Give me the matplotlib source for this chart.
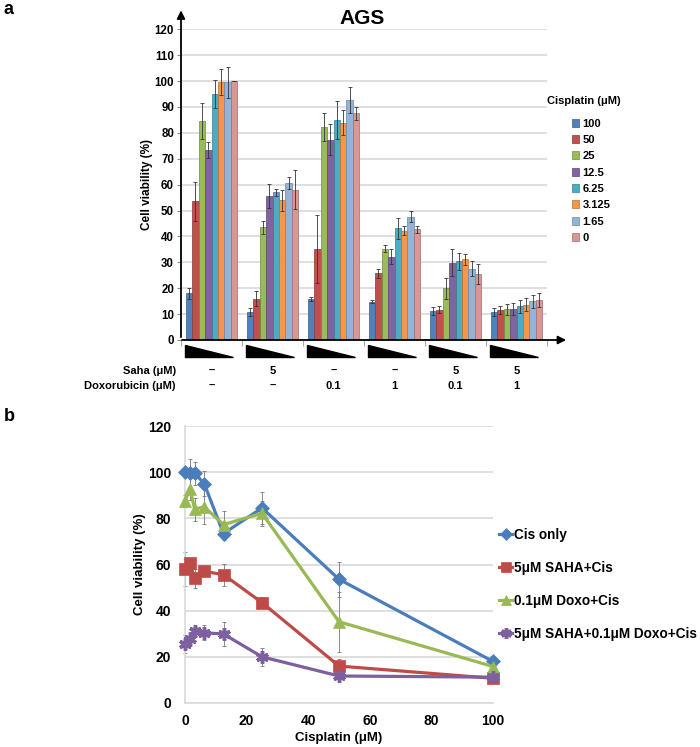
import numpy as np
import matplotlib
matplotlib.use("Agg")
import matplotlib.pyplot as plt
from matplotlib.patches import Polygon
from matplotlib.lines import Line2D
from matplotlib.transforms import blended_transform_factory

plt.rcParams['font.family'] = ['Liberation Sans', 'DejaVu Sans']
plt.rcParams['font.weight'] = 'bold'

# cisplatin doses (uM), one bar per dose inside each group
cis_labels = ['100', '50', '25', '12.5', '6.25', '3.125', '1.65', '0']
cis_conc = [100, 50, 25, 12.5, 6.25, 3.125, 1.65, 0]

# treatment rows under the bar chart
saha_row = ['–', '5', '–', '–', '5', '5']
doxo_row = ['–', '–', '0.1', '1', '0.1', '1']

# cell viability (%) per group, ordered like cis_labels
cis_only = [18, 53.6, 84.5, 73.4, 95, 99.6, 99.6, 100]
cis_only_err = [2, 7.6, 7, 3, 5.5, 5, 6, 0]
saha5 = [10.7, 16, 43.5, 55.6, 57, 54, 60.5, 58]
saha5_err = [1.5, 3, 2.5, 4.7, 1.5, 4, 2.3, 7.5]
doxo01 = [15.8, 35.2, 82.2, 77.3, 85, 84, 92.8, 87.5]
doxo01_err = [0.8, 13, 5.5, 6, 7.5, 5, 5, 2.5]
doxo1 = [14.8, 25.8, 35.3, 32.2, 43.2, 42.2, 47.6, 42.7]
doxo1_err = [0.5, 1.8, 1.3, 3, 4, 1.7, 2.2, 1.5]
saha5_doxo01 = [11.2, 11.7, 20, 29.9, 30.4, 31.1, 27.6, 25.5]
saha5_doxo01_err = [1.5, 1.3, 4, 5.3, 3.3, 2, 3, 3.8]
saha5_doxo1 = [10.8, 11.6, 11.8, 11.9, 13.1, 13.7, 14.9, 15.4]
saha5_doxo1_err = [1.5, 1.5, 2, 2.2, 2.5, 2.6, 2.5, 2.8]

groups = [cis_only, saha5, doxo01, doxo1, saha5_doxo01, saha5_doxo1]
group_errs = [cis_only_err, saha5_err, doxo01_err, doxo1_err, saha5_doxo01_err, saha5_doxo1_err]

bar_colors = ['#4F81BD', '#C0504D', '#9BBB59', '#8064A2', '#4BACC6', '#F79646', '#95B3D7', '#D99694']
edge_colors = ['#385D8A', '#8C3836', '#71893F', '#5C4776', '#357D91', '#B66D31', '#6F87A8', '#A06E6D']

W, H = 700, 747
fig = plt.figure(figsize=(W / 100, H / 100), dpi=100)

def fx(px):
    return px / W

def fy(py):
    return 1 - py / H

# ---------------- panel a ----------------
ax = fig.add_axes([fx(181), fy(340), fx(366), (340 - 29.3) / H])
vals = np.array(groups)
errs = np.array(group_errs)
n_grp, n_bar = vals.shape
bw = 0.106
for j in range(n_bar):
    xs = np.arange(n_grp) + 0.5 + (j - (n_bar - 1) / 2) * bw
    ax.bar(xs, vals[:, j], width=bw, color=bar_colors[j], edgecolor=edge_colors[j],
           linewidth=0.5, zorder=3, label=cis_labels[j])
    ax.errorbar(xs, vals[:, j], yerr=errs[:, j], fmt='none', ecolor='#333333',
                elinewidth=0.6, capsize=1.2, capthick=0.6, zorder=4)

ax.set_xlim(0, n_grp)
ax.set_ylim(0, 120)
ax.set_yticks(np.arange(0, 121, 10))
ax.tick_params(axis='y', labelsize=8.3, length=3, color='#888888', pad=2)
ax.set_xticks(np.arange(0, n_grp + 1))
ax.set_xticklabels([])
ax.tick_params(axis='x', length=4, color='#AAAAAA')
ax.yaxis.grid(True, color='#D9D9D9', linewidth=1.2, zorder=0)
for s in ax.spines.values():
    s.set_visible(False)
ax.annotate('', xy=(0, 1.07), xytext=(0, 0), xycoords='axes fraction',
            arrowprops=dict(arrowstyle='-|>', color='black', lw=1.3, mutation_scale=12),
            annotation_clip=False)
ax.annotate('', xy=(1.06, 0), xytext=(-0.005, 0), xycoords='axes fraction',
            arrowprops=dict(arrowstyle='-|>', color='black', lw=1.3, mutation_scale=12),
            annotation_clip=False)
ax.set_ylabel('Cell viability (%)', fontsize=8.5, fontweight='bold', labelpad=1)
fig.text(fx(362), fy(19), 'AGS', fontsize=15, fontweight='bold', ha='center', va='center')
fig.text(fx(4), fy(9), 'a', fontsize=13, fontweight='bold', ha='left', va='center')

# dose wedges and treatment rows under each group
tr = blended_transform_factory(ax.transData, fig.transFigure)
for g in range(n_grp):
    tri = Polygon([(g + 0.07, fy(345)), (g + 0.07, fy(357)), (g + 0.86, fy(357))],
                  closed=True, facecolor='black', edgecolor='black', transform=tr,
                  clip_on=False)
    fig.patches.append(tri)
    ax.text(g + 0.5, fy(371), saha_row[g], transform=tr, fontsize=8, fontweight='bold',
            ha='center', va='center')
    ax.text(g + 0.5, fy(386), doxo_row[g], transform=tr, fontsize=8, fontweight='bold',
            ha='center', va='center')
fig.text(fx(176), fy(371), 'Saha (μM)', fontsize=8, fontweight='bold', ha='right', va='center')
fig.text(fx(176), fy(386), 'Doxorubicin (μM)', fontsize=8, fontweight='bold', ha='right', va='center')

# legend for doses
fig.text(fx(547), fy(101), 'Cisplatin (μM)', fontsize=8, fontweight='bold', ha='left', va='center')
handles = [plt.Rectangle((0, 0), 1, 1, facecolor=bar_colors[j], edgecolor=edge_colors[j], linewidth=0.5)
           for j in range(n_bar)]
fig.legend(handles, cis_labels, loc='upper left', bbox_to_anchor=(fx(566), fy(113)),
           frameon=False, handlelength=0.7, handleheight=0.7,
           handletextpad=0.3, labelspacing=0.57, borderpad=0, prop={'weight': 'bold', 'size': 8})

# ---------------- panel b ----------------
bx = fig.add_axes([fx(185), fy(703), fx(308), 277 / H])
line_sets = [
    (cis_only, cis_only_err, '#4A7EBB', 'D', 7, 'Cis only'),
    (saha5, saha5_err, '#BE4B48', 's', 9, '5μM SAHA+Cis'),
    (doxo01, doxo01_err, '#98B954', '^', 9, '0.1μM Doxo+Cis'),
    (saha5_doxo01, saha5_doxo01_err, '#7D60A0', (6, 2, 0), 9, '5μM SAHA+0.1μM Doxo+Cis'),
]
leg_handles = []
for y, e, c, m, ms, lab in line_sets:
    bx.errorbar(cis_conc, y, yerr=e, fmt='none', ecolor='#777777', elinewidth=0.6,
                capsize=1.5, capthick=0.6, zorder=2, clip_on=False)
    mew = 2.5 if m == (6, 2, 0) else 0.5
    bx.plot(cis_conc, y, color=c, linewidth=2.3, marker=m, markersize=ms,
            markerfacecolor=c, markeredgecolor=c, markeredgewidth=mew, zorder=3, clip_on=False)
    leg_handles.append(Line2D([0], [0], color=c, linewidth=2.3, marker=m, markersize=ms * 0.85,
                              markerfacecolor=c, markeredgecolor=c, markeredgewidth=mew))
bx.set_xlim(0, 100)
bx.set_ylim(0, 120)
bx.set_xticks(np.arange(0, 101, 20))
bx.set_yticks(np.arange(0, 121, 20))
bx.tick_params(axis='y', labelsize=10, length=0, pad=10)
bx.tick_params(axis='x', labelsize=10, length=0, pad=8)
bx.yaxis.grid(True, color='#D9D9D9', linewidth=1.2, zorder=0)
for k, s in bx.spines.items():
    if k in ('left', 'bottom'):
        s.set_color('#D9D9D9')
        s.set_linewidth(1.2)
    else:
        s.set_visible(False)
bx.set_ylabel('Cell viability (%)', fontsize=9.5, fontweight='bold', labelpad=1)
bx.set_xlabel('Cisplatin (μM)', fontsize=9.5, fontweight='bold', labelpad=3)
fig.text(fx(4), fy(416), 'b', fontsize=13, fontweight='bold', ha='left', va='center')
fig.legend(leg_handles, [s[5] for s in line_sets], loc='upper left',
           bbox_to_anchor=(fx(492), fy(521)), frameon=False, handlelength=1.0,
           handletextpad=0.1, labelspacing=1.4, borderpad=0,
           prop={'weight': 'bold', 'size': 9.8})

fig.savefig('out.png', dpi=100)
